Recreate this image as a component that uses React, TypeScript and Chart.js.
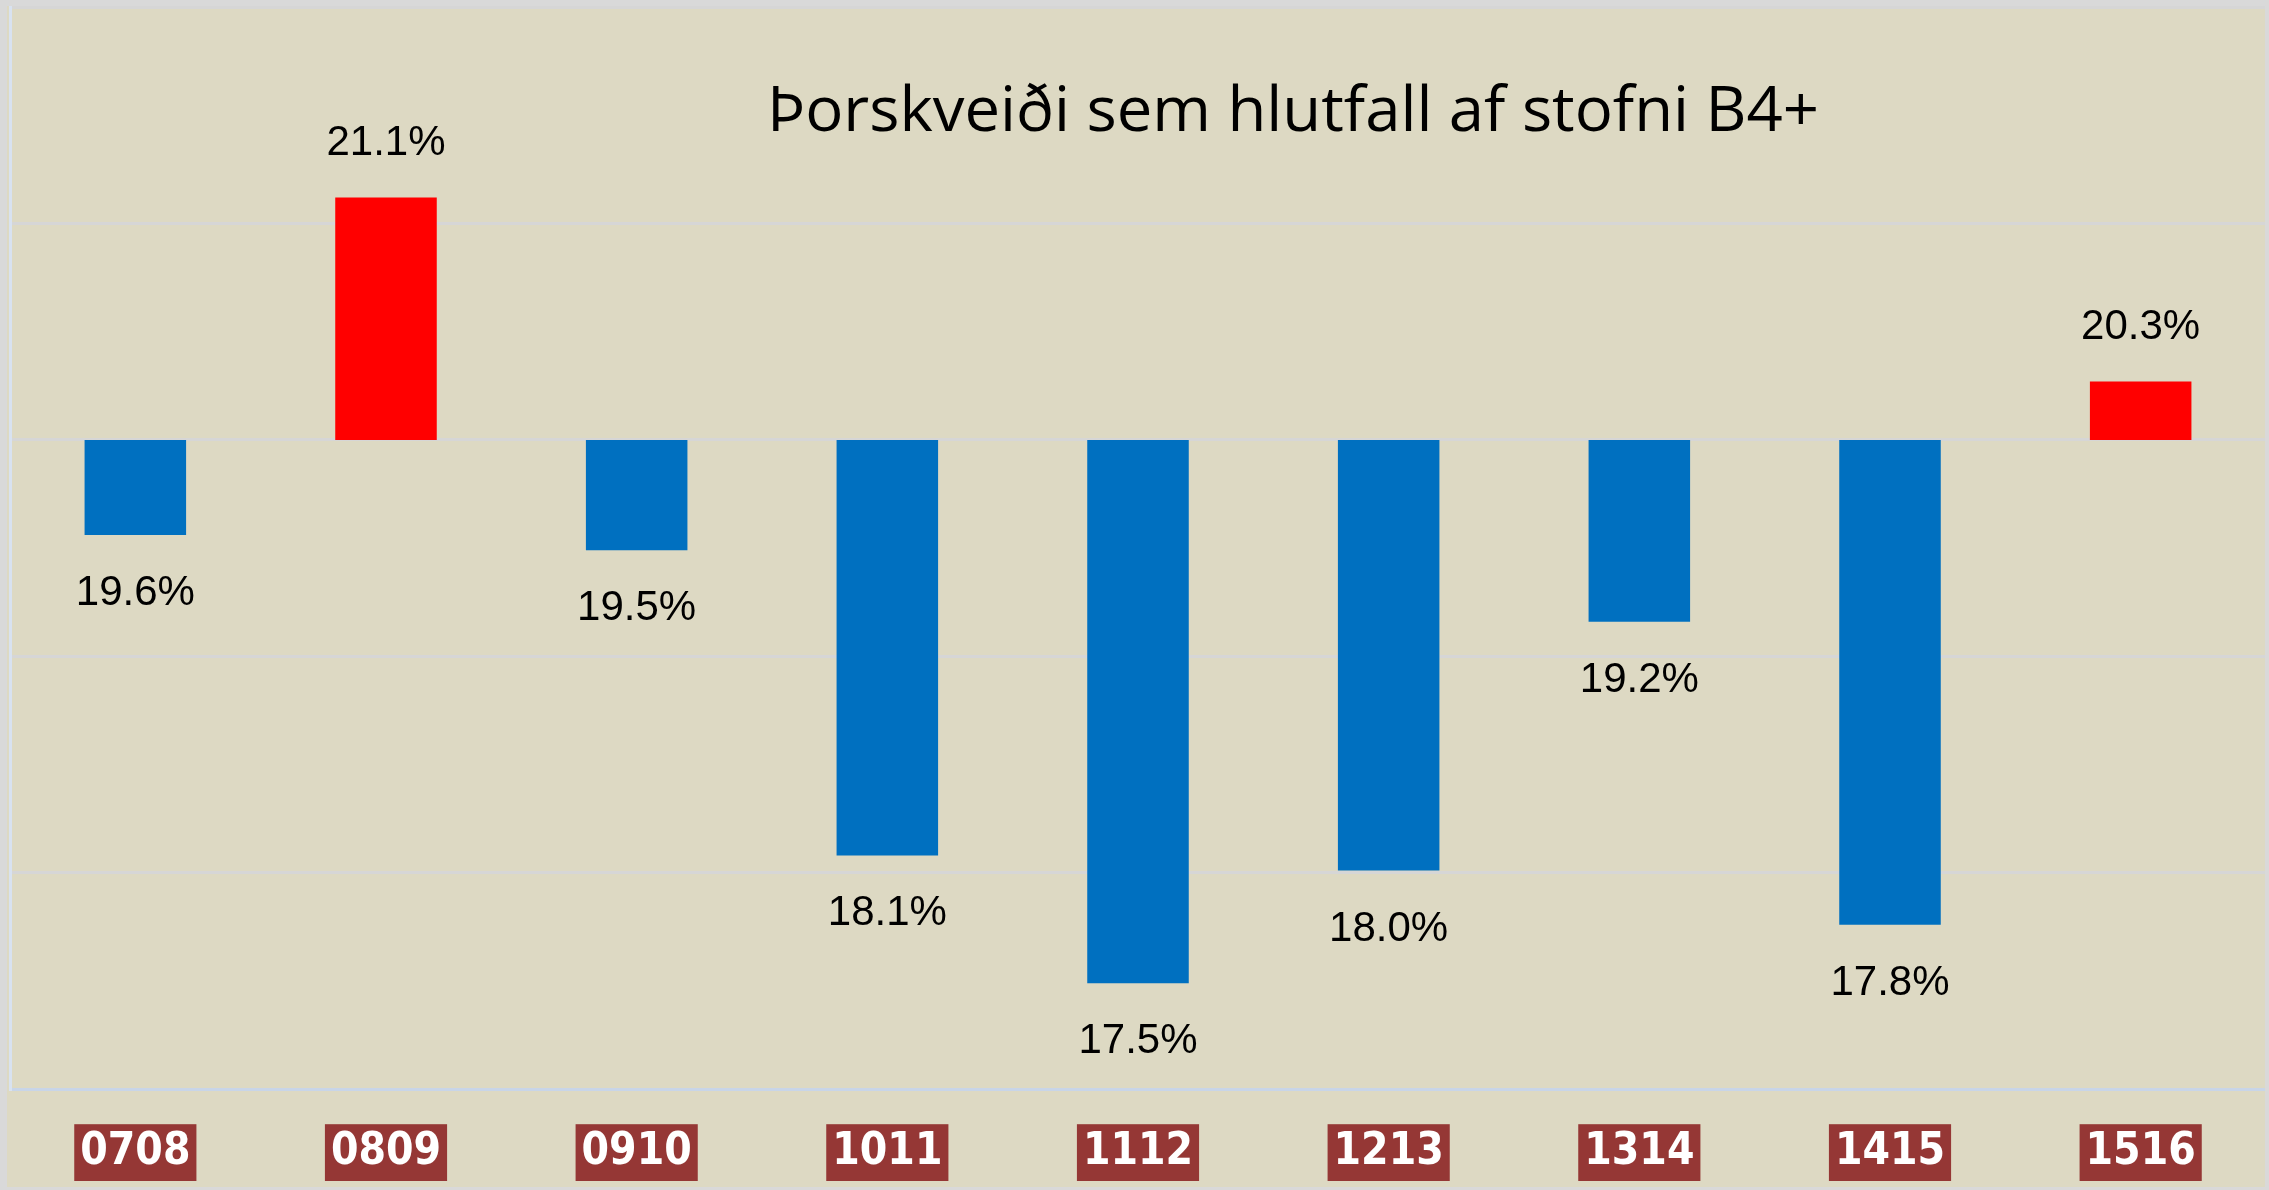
import React, { useEffect, useRef } from "react";
import { Chart, registerables } from "chart.js";

Chart.register(...registerables);

const TITLE = "Þorskveiði sem hlutfall af stofni B4+";
const CATEGORIES = ["0708", "0809", "0910", "1011", "1112", "1213", "1314", "1415", "1516"];
const VALUES = [19.56, 21.12, 19.49, 18.08, 17.49, 18.01, 19.16, 17.76, 20.27];
const BASELINE = 20;
const Y_MIN = 17;
const Y_MAX = 22;
const Y_STEP = 1;

const W = 2269;
const H = 1190;

export default function App() {
  const ref = useRef<HTMLCanvasElement | null>(null);

  useEffect(() => {
    const canvas = ref.current;
    if (!canvas) return;

    const labelPlugin = {
      id: "valueLabels",
      afterDatasetsDraw(chart: any) {
        const ctx = chart.ctx;
        const meta = chart.getDatasetMeta(0);
        ctx.save();
        ctx.font = "42px 'Liberation Sans', Arial, sans-serif";
        ctx.fillStyle = "#000000";
        ctx.textAlign = "center";
        ctx.textBaseline = "alphabetic";
        meta.data.forEach((el: any, i: number) => {
          const v = VALUES[i];
          const txt = v.toFixed(1) + "%";
          const top = Math.min(el.y, el.base);
          const bottom = Math.max(el.y, el.base);
          if (v > BASELINE) ctx.fillText(txt, el.x, top - 42);
          else ctx.fillText(txt, el.x, bottom + 70);
        });
        ctx.restore();
      },
    };

    const titlePlugin = {
      id: "customTitle",
      afterDraw(chart: any) {
        const ctx = chart.ctx;
        ctx.save();
        ctx.font = "63px 'Open Sans', sans-serif";
        ctx.fillStyle = "#000000";
        ctx.textAlign = "left";
        ctx.textBaseline = "alphabetic";
        const w = ctx.measureText(TITLE).width;
        const sx = 1052 / w;
        ctx.translate(767, 131);
        ctx.scale(sx, 1);
        ctx.fillText(TITLE, 0, 0);
        ctx.restore();
      },
    };

    const chart = new Chart(canvas, {
      type: "bar",
      data: {
        labels: CATEGORIES,
        datasets: [
          {
            data: VALUES.map((v) => [BASELINE, v]) as any,
            backgroundColor: VALUES.map((v) => (v > BASELINE ? "#FF0000" : "#0070C0")),
            borderWidth: 0,
            categoryPercentage: 1,
            barPercentage: 0.405,
          },
        ],
      },
      options: {
        responsive: false,
        maintainAspectRatio: false,
        animation: false,
        devicePixelRatio: 1,
        layout: { padding: { left: 10, right: 3, top: 7, bottom: -26 } },
        plugins: {
          legend: { display: false },
          title: { display: false },
          tooltip: { enabled: false },
        },
        scales: {
          x: {
            type: "category",
            offset: true,
            grid: { display: false, drawTicks: false, tickLength: 0 },
            border: { display: true, color: "#C8D5E8", width: 3 },
            ticks: {
              color: "#FFFFFF",
              padding: 37,
              font: { family: "'DejaVu Sans Condensed', 'DejaVu Sans', sans-serif", size: 44, weight: "bold", lineHeight: 1.2 },
              showLabelBackdrop: true,
              backdropColor: "#953735",
              backdropPadding: { left: 6, right: 6, top: 2, bottom: 2 },
              maxRotation: 0,
              autoSkip: false,
            } as any,
          },
          y: {
            type: "linear",
            min: Y_MIN,
            max: Y_MAX,
            grid: {
              color: "#D6D6D6",
              lineWidth: 3,
              drawTicks: false,
              tickLength: 0,
            },
            border: { display: true, color: "#D8E2F0", width: 3 },
            ticks: { display: false, stepSize: Y_STEP },
          },
        },
      },
      plugins: [labelPlugin, titlePlugin],
    });

    return () => chart.destroy();
  }, []);

  return (
    <div style={{ position: "fixed", left: 0, top: 0, width: W, height: H, background: "#DDD9C3", overflow: "hidden" }}>
      <canvas ref={ref} width={W} height={H} style={{ display: "block", width: W, height: H }} />
      <div
        style={{
          position: "absolute",
          left: 0,
          top: 0,
          width: W,
          height: H,
          boxSizing: "border-box",
          borderStyle: "solid",
          borderColor: "#D9D9D9",
          borderWidth: "6px 4px 3px 7px",
          pointerEvents: "none",
        }}
      />
    </div>
  );
}
